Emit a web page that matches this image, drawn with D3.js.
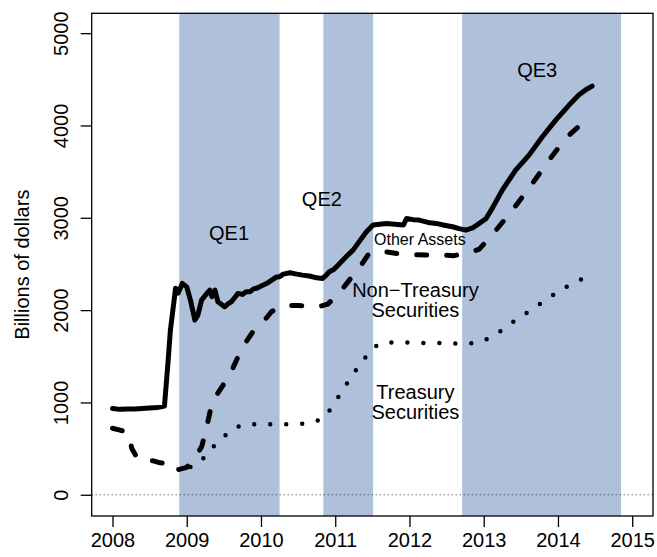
<!DOCTYPE html>
<html>
<head>
<meta charset="utf-8">
<script src="https://cdn.jsdelivr.net/npm/d3@7"></script>
<style>
  body { margin: 0; background: #fff; }
  text { font-family: "Liberation Sans", Arial, sans-serif; fill: #000; }
</style>
</head>
<body>
<svg id="chart" width="657" height="557"></svg>
<script>
// QE programme periods (decimal years)
const qePeriods = [
    { name: "QE1", start: 2008.90, end: 2010.25 },
    { name: "QE2", start: 2010.84, end: 2011.51 },
    { name: "QE3", start: 2012.71, end: 2014.85 }
];

const xTicks = [2008, 2009, 2010, 2011, 2012, 2013, 2014, 2015];
const yTicks = [0, 1000, 2000, 3000, 4000, 5000];

// Total assets (solid), [year, billions]
const totalAssets = [
    [2008.00, 935], [2008.10, 925], [2008.20, 930], [2008.30, 928], [2008.40, 935],
    [2008.50, 940], [2008.60, 945], [2008.70, 960], [2008.75, 1458], [2008.78, 1783],
    [2008.825, 2076], [2008.85, 2238], [2008.885, 2184], [2008.94, 2290], [2009.00, 2252],
    [2009.05, 2108], [2009.11, 1892], [2009.15, 1946], [2009.20, 2108], [2009.27, 2181],
    [2009.31, 2217], [2009.34, 2145], [2009.38, 2217], [2009.42, 2090], [2009.47, 2060],
    [2009.51, 2036], [2009.56, 2070], [2009.60, 2090], [2009.65, 2140], [2009.69, 2181],
    [2009.75, 2170], [2009.80, 2200], [2009.85, 2198], [2009.90, 2230], [2009.95, 2240],
    [2010.03, 2271], [2010.10, 2300], [2010.20, 2355], [2010.25, 2361], [2010.30, 2390],
    [2010.39, 2404], [2010.48, 2390], [2010.56, 2379], [2010.65, 2370], [2010.75, 2350],
    [2010.83, 2343], [2010.88, 2380], [2010.92, 2415], [2010.98, 2440], [2011.06, 2506],
    [2011.15, 2580], [2011.24, 2650], [2011.33, 2750], [2011.42, 2848], [2011.51, 2921],
    [2011.60, 2930], [2011.69, 2939], [2011.80, 2930], [2011.92, 2921], [2011.96, 2993],
    [2012.05, 2980], [2012.13, 2975], [2012.25, 2950], [2012.36, 2939], [2012.47, 2920],
    [2012.58, 2903], [2012.68, 2880], [2012.76, 2867], [2012.85, 2890], [2012.94, 2939],
    [2013.03, 2990], [2013.12, 3110], [2013.25, 3300], [2013.43, 3517], [2013.61, 3679],
    [2013.79, 3878], [2013.97, 4058], [2014.15, 4221], [2014.28, 4329], [2014.38, 4390],
    [2014.46, 4427]
];

// Treasury + non-treasury securities (dashed)
const allSecurities = [
    [2008.00, 720], [2008.10, 700], [2008.21, 675], [2008.26, 502], [2008.35, 375],
    [2008.45, 370], [2008.55, 367], [2008.62, 350], [2008.70, 339], [2008.80, 256],
    [2008.90, 275], [2009.00, 296], [2009.13, 429], [2009.20, 519], [2009.27, 736],
    [2009.33, 960], [2009.40, 1079], [2009.49, 1187], [2009.62, 1368], [2009.69, 1494],
    [2009.80, 1657], [2009.89, 1765], [2010.05, 1892], [2010.14, 1982], [2010.25, 2030],
    [2010.36, 2050], [2010.50, 2050], [2010.65, 2040], [2010.77, 2035], [2010.90, 2065],
    [2011.08, 2209], [2011.19, 2325], [2011.35, 2488], [2011.44, 2596], [2011.54, 2640],
    [2011.70, 2630], [2011.85, 2610], [2012.03, 2600], [2012.23, 2596], [2012.42, 2596],
    [2012.60, 2590], [2012.80, 2621], [2012.94, 2660], [2013.13, 2831], [2013.38, 3076],
    [2013.63, 3343], [2013.87, 3614], [2014.11, 3867], [2014.40, 4077], [2014.46, 4113]
];

// Treasury securities (dotted)
const treasuries = [
    [2009.05, 300], [2009.18, 350], [2009.31, 483], [2009.46, 602], [2009.62, 711],
    [2009.75, 760], [2009.83, 765], [2010.05, 765], [2010.26, 765], [2010.47, 765],
    [2010.69, 779], [2010.80, 815], [2010.88, 862], [2011.00, 1006], [2011.12, 1158],
    [2011.24, 1307], [2011.36, 1440], [2011.49, 1577], [2011.60, 1640], [2011.68, 1646],
    [2011.90, 1653], [2012.10, 1643], [2012.31, 1646], [2012.52, 1643], [2012.73, 1632],
    [2012.93, 1650], [2013.12, 1711], [2013.30, 1815], [2013.47, 1915], [2013.66, 2011],
    [2013.83, 2108], [2014.00, 2198], [2014.19, 2289], [2014.39, 2361], [2014.46, 2380]
];

// Text annotations placed in data coordinates
const annotations = [
    { x: 2009.57, y: 2760, lines: ["QE1"], size: 20 },
    { x: 2010.82, y: 3130, lines: ["QE2"], size: 20 },
    { x: 2013.72, y: 4520, lines: ["QE3"], size: 20 },
    { x: 2012.14, y: 2700, lines: ["Other Assets"], size: 16 },
    { x: 2012.08, y: 2140, lines: ["Non\u2212Treasury", "Securities"], size: 20 },
    { x: 2012.08, y: 1040, lines: ["Treasury", "Securities"], size: 20 }
];

const svg = d3.select("#chart");

const plotLeft = 91.7, plotRight = 653, plotTop = 13.3, plotBottom = 516;

const x = d3.scaleLinear()
    .domain([2008 - 0.28, 2015 + 0.28])
    .range([plotLeft, plotRight]);

const y = d3.scaleLinear()
    .domain([-230, 5215])
    .range([plotBottom, plotTop]);

// shaded QE bands
svg.selectAll(".qe")
    .data(qePeriods)
    .enter()
    .append("rect")
    .attr("class", "qe")
    .attr("x", d => x(d.start))
    .attr("width", d => x(d.end) - x(d.start))
    .attr("y", plotTop)
    .attr("height", plotBottom - plotTop)
    .attr("fill", "#afc0db");

// zero reference line
svg.append("line")
    .attr("x1", plotLeft).attr("x2", plotRight)
    .attr("y1", y(0)).attr("y2", y(0))
    .attr("stroke", "#333")
    .attr("stroke-width", 1)
    .attr("stroke-dasharray", "1,3");

const lineGen = d3.line()
    .x(d => x(d[0]))
    .y(d => y(d[1]));

svg.append("path")
    .datum(totalAssets)
    .attr("fill", "none")
    .attr("stroke", "#000")
    .attr("stroke-width", 5)
    .attr("stroke-linejoin", "round")
    .attr("stroke-linecap", "round")
    .attr("d", lineGen);

svg.append("path")
    .datum(allSecurities)
    .attr("fill", "none")
    .attr("stroke", "#000")
    .attr("stroke-width", 5)
    .attr("stroke-linejoin", "round")
    .attr("stroke-linecap", "round")
    .attr("stroke-dasharray", "10,20")
    .attr("d", lineGen);

svg.append("path")
    .datum(treasuries)
    .attr("fill", "none")
    .attr("stroke", "#000")
    .attr("stroke-width", 4.5)
    .attr("stroke-linecap", "round")
    .attr("stroke-dasharray", "0,16")
    .attr("d", lineGen);

// plot box
svg.append("rect")
    .attr("x", plotLeft).attr("y", plotTop)
    .attr("width", plotRight - plotLeft).attr("height", plotBottom - plotTop)
    .attr("fill", "none")
    .attr("stroke", "#000")
    .attr("stroke-width", 1.3);

// axes
const xAxis = svg.append("g")
    .attr("transform", `translate(0,${plotBottom})`)
    .call(d3.axisBottom(x).tickValues(xTicks).tickFormat(d3.format("d")).tickSize(11).tickPadding(6));
xAxis.select(".domain").remove();
xAxis.selectAll("line").attr("stroke", "#000").attr("stroke-width", 1.3);
xAxis.selectAll("text")
    .attr("font-size", "20px")
    .attr("font-family", "Liberation Sans, Arial, sans-serif")
    .attr("fill", "#000");

const yAxis = svg.append("g")
    .attr("transform", `translate(${plotLeft},0)`)
    .call(d3.axisLeft(y).tickValues(yTicks).tickSize(11));
yAxis.select(".domain").remove();
yAxis.selectAll("line").attr("stroke", "#000").attr("stroke-width", 1.3);
yAxis.selectAll("text").remove();
yAxis.selectAll(".tick")
    .append("text")
    .attr("transform", `translate(${68 - plotLeft},0) rotate(-90)`)
    .attr("text-anchor", "middle")
    .attr("font-size", "20px")
    .attr("font-family", "Liberation Sans, Arial, sans-serif")
    .attr("fill", "#000")
    .text(d => d);

// axis label
svg.append("text")
    .attr("transform", `translate(29,${(plotTop + plotBottom) / 2}) rotate(-90)`)
    .attr("text-anchor", "middle")
    .attr("font-size", "20px")
    .text("Billions of dollars");

// annotations
annotations.forEach(a => {
    const t = svg.append("text")
        .attr("text-anchor", "middle")
        .attr("font-size", a.size + "px");
    a.lines.forEach((line, i) => {
        t.append("tspan")
            .attr("x", x(a.x))
            .attr("y", y(a.y) + i * a.size)
            .text(line);
    });
});
</script>
</body>
</html>
